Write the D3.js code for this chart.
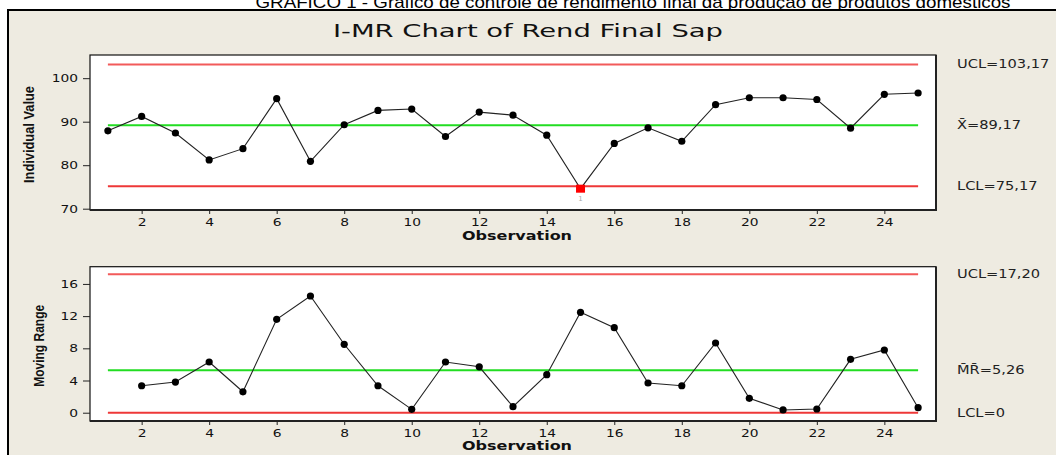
<!DOCTYPE html>
<html>
<head>
<meta charset="utf-8">
<script src="https://cdn.jsdelivr.net/npm/d3@7"></script>
<style>
  html, body { margin: 0; padding: 0; background: #ffffff; }
  svg { display: block; }
</style>
</head>
<body>
<svg id="chart" width="1056" height="455"></svg>
<script>
// ---------- DATA ----------
const observations = [1,2,3,4,5,6,7,8,9,10,11,12,13,14,15,16,17,18,19,20,21,22,23,24,25];
const individualValues = [87.9, 91.2, 87.4, 81.2, 83.8, 95.3, 80.9, 89.3, 92.6, 92.9,
                          86.6, 92.2, 91.5, 86.9, 74.6, 85.0, 88.6, 85.5, 93.9, 95.5,
                          95.5, 95.1, 88.5, 96.3, 96.6];
const movingRanges = [null, 3.35, 3.81, 6.3, 2.6, 11.6, 14.5, 8.5, 3.35, 0.42,
                      6.3, 5.7, 0.75, 4.72, 12.47, 10.56, 3.69, 3.35, 8.66, 1.79,
                      0.34, 0.46, 6.63, 7.79, 0.62];
const outOfControl = [15];          // observations flagged by test 1
const xTickValues = [2,4,6,8,10,12,14,16,18,20,22,24];
const iTickValues = [70,80,90,100];
const mrTickValues = [0,4,8,12,16];
const iLimitValues = [103.17, 89.17, 75.17];
const iLimitLabels = ["UCL=103,17", "X\u0304=89,17", "LCL=75,17"];
const mrLimitValues = [17.20, 5.26, 0];
const mrLimitLabels = ["UCL=17,20", "M\u0304R\u0304=5,26", "LCL=0"];
const limitKinds = ["ucl", "cl", "lcl"];
const captionText = "GRÁFICO 1 - Gráfico de controle de rendimento final da produção de produtos domésticos";
const titleText = "I-MR Chart of Rend Final Sap";

// ---------- LAYOUT ----------
const svg = d3.select("#chart");
const BG = "#eeebe1";
const tickFont = "DejaVu Sans, Verdana, sans-serif";

function stretch(sel, factor) {
  sel.each(function () {
    const w = this.getComputedTextLength();
    this.setAttribute("textLength", (w * factor).toFixed(1));
    this.setAttribute("lengthAdjust", "spacingAndGlyphs");
  });
}
function fitTo(sel, width) {
  sel.attr("textLength", width).attr("lengthAdjust", "spacingAndGlyphs");
}

// caption (cut off at top)
const cap = svg.append("text")
  .attr("x", 633).attr("y", 8)
  .attr("text-anchor", "middle")
  .attr("font-family", "Liberation Sans, Arial, sans-serif")
  .attr("font-size", 17)
  .attr("fill", "#000")
  .text(captionText);
fitTo(cap, 755);

// outer frame
svg.append("rect")
  .attr("x", 8).attr("y", 10)
  .attr("width", 1100).attr("height", 500)
  .attr("fill", BG).attr("stroke", "#000").attr("stroke-width", 2);

// title
const title = svg.append("text")
  .attr("x", 528).attr("y", 37)
  .attr("text-anchor", "middle")
  .attr("font-family", tickFont)
  .attr("font-size", 17)
  .attr("fill", "#111")
  .text(titleText);
fitTo(title, 390);

const x = d3.scaleLinear().domain([0.47, 25.53]).range([90, 936]);

function panel(opts) {
  const { top, bottom, yDomain, yTicks, values, limits, labels, yLabel, yLabelX, yLabelLen, obsY, flagged } = opts;
  const y = d3.scaleLinear().domain(yDomain).range([bottom, top]);
  const g = svg.append("g");

  // plot box
  g.append("rect")
    .attr("x", x.range()[0]).attr("y", top)
    .attr("width", x.range()[1] - x.range()[0]).attr("height", bottom - top)
    .attr("fill", "#ffffff").attr("stroke", "#111").attr("stroke-width", 1.2);
  g.append("path")
    .attr("d", `M${x.range()[1]},${top}V${bottom}H${x.range()[0]}`)
    .attr("fill", "none").attr("stroke", "#222").attr("stroke-width", 2);

  // x axis
  const xa = g.append("g")
    .attr("transform", `translate(0,${bottom})`)
    .call(d3.axisBottom(x).tickValues(xTickValues).tickSize(4).tickSizeOuter(0).tickPadding(4));
  xa.select(".domain").remove();
  xa.selectAll("line").attr("stroke", "#222");
  xa.selectAll("text").attr("font-family", tickFont).attr("font-size", 11).attr("fill", "#111");
  stretch(xa.selectAll("text"), 1.25);

  // y axis
  const ya = g.append("g")
    .attr("transform", `translate(${x.range()[0]},0)`)
    .call(d3.axisLeft(y).tickValues(yTicks).tickSize(7).tickSizeOuter(0).tickPadding(5));
  ya.select(".domain").remove();
  ya.selectAll("line").attr("stroke", "#222");
  ya.selectAll("text").attr("font-family", tickFont).attr("font-size", 11).attr("fill", "#111");
  stretch(ya.selectAll("text"), 1.25);

  // axis titles
  const ox = g.append("text")
    .attr("x", 517).attr("y", obsY)
    .attr("text-anchor", "middle")
    .attr("font-family", tickFont).attr("font-weight", "bold")
    .attr("font-size", 11.5).attr("fill", "#111")
    .text("Observation");
  fitTo(ox, 110);

  const yl = g.append("text")
    .attr("transform", `translate(${yLabelX},${(top + bottom) / 2 + 2}) rotate(-90)`)
    .attr("text-anchor", "middle")
    .attr("font-family", "Liberation Sans Narrow, Liberation Sans, Arial Narrow, sans-serif")
    .attr("font-weight", "bold")
    .attr("font-size", 14).attr("fill", "#111")
    .text(yLabel);
  fitTo(yl, yLabelLen);

  // control limit lines
  const limColor = { ucl: "#f25a5a", cl: "#22dd22", lcl: "#ee3838" };
  g.selectAll(".lim").data(limits).join("line")
    .attr("x1", x(observations[0])).attr("x2", x(observations[observations.length - 1]))
    .attr("y1", d => y(d)).attr("y2", d => y(d))
    .attr("stroke", (d, i) => limColor[limitKinds[i]])
    .attr("stroke-width", 2);

  // limit labels
  const lt = g.selectAll(".limlab").data(labels).join("text")
    .attr("x", 957).attr("y", (d, i) => y(limits[i]) + 4)
    .attr("font-family", tickFont).attr("font-size", 11.5).attr("fill", "#222")
    .text(d => d);
  stretch(lt, 1.27);

  // data
  const pts = observations.map((o, i) => ({ o, v: values[i] })).filter(d => d.v != null);
  g.append("path")
    .datum(pts)
    .attr("d", d3.line().x(d => x(d.o)).y(d => y(d.v)))
    .attr("fill", "none").attr("stroke", "#222").attr("stroke-width", 1.1);

  g.selectAll(".pt").data(pts.filter(d => !flagged.includes(d.o))).join("circle")
    .attr("cx", d => x(d.o)).attr("cy", d => y(d.v)).attr("r", 3.6)
    .attr("fill", "#000");

  const fl = pts.filter(d => flagged.includes(d.o));
  g.selectAll(".fl").data(fl).join("rect")
    .attr("x", d => x(d.o) - 4.5).attr("y", d => y(d.v) - 4)
    .attr("width", 9).attr("height", 8)
    .attr("fill", "#ff0000");
  g.selectAll(".fltxt").data(fl).join("text")
    .attr("x", d => x(d.o)).attr("y", d => y(d.v) + 12)
    .attr("text-anchor", "middle")
    .attr("font-family", tickFont).attr("font-size", 7).attr("fill", "#aaa")
    .text("1");
}

panel({
  top: 55, bottom: 210, yDomain: [69.7, 105.33], yTicks: iTickValues,
  values: individualValues, limits: iLimitValues, labels: iLimitLabels,
  yLabel: "Individual Value", yLabelX: 34, yLabelLen: 97, obsY: 240,
  flagged: outOfControl
});
panel({
  top: 266.7, bottom: 421, yDomain: [-1.03, 18.14], yTicks: mrTickValues,
  values: movingRanges, limits: mrLimitValues, labels: mrLimitLabels,
  yLabel: "Moving Range", yLabelX: 44, yLabelLen: 82, obsY: 450,
  flagged: []
});
</script>
</body>
</html>
